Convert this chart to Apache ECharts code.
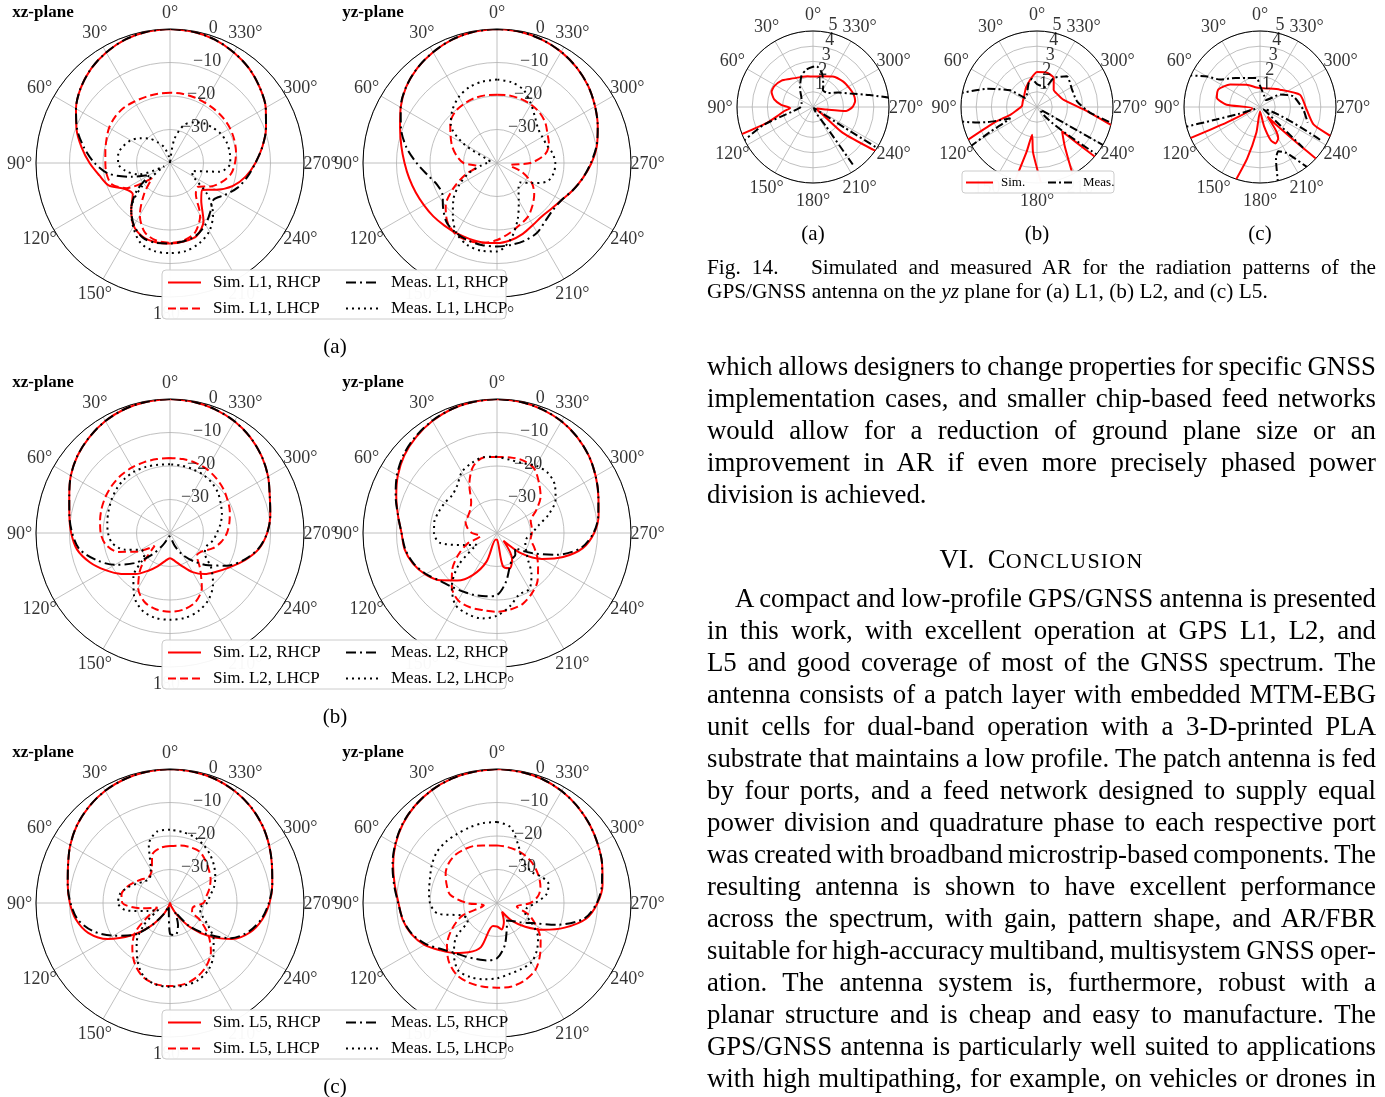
<!DOCTYPE html>
<html>
<head>
<meta charset="utf-8">
<script src="https://cdn.jsdelivr.net/npm/echarts@6/dist/echarts.min.js"></script>
<style>
  html, body { margin: 0; padding: 0; background: #fff; }
  #chart { position: absolute; left: 0; top: 0; width: 1385px; height: 1097px; }
  .col { position: absolute; left: 707px; width: 669px; font-family: 'Liberation Serif', 'Times New Roman', serif; color: #000; }
  .j { text-align: justify; text-align-last: justify; word-spacing: -3px; }
  .body { font-size: 26.8px; line-height: 32px; }
  .cap { font-size: 21.3px; line-height: 24px; }
  .sc { font-size: 0.82em; letter-spacing: 1.2px; }
</style>
</head>
<body>
<div id="chart"></div>

<div class="col cap" style="top:255px;">
  <div class="j">Fig. 14.&emsp;&nbsp;Simulated and measured AR for the radiation patterns of the</div>
  <div>GPS/GNSS antenna on the <i>yz</i> plane for (a) L1, (b) L2, and (c) L5.</div>
</div>

<div class="col body" style="top:350px;">
  <div class="j">which allows designers to change properties for specific GNSS</div>
  <div class="j">implementation cases, and smaller chip-based feed networks</div>
  <div class="j">would allow for a reduction of ground plane size or an</div>
  <div class="j">improvement in AR if even more precisely phased power</div>
  <div>division is achieved.</div>
</div>

<div class="col body" style="top:543px; text-align:center;">VI.&nbsp;&nbsp;C<span class="sc">ONCLUSION</span></div>

<div class="col body" style="top:582px;">
  <div class="j" style="text-indent:28px;">A compact and low-profile GPS/GNSS antenna is presented</div>
  <div class="j">in this work, with excellent operation at GPS L1, L2, and</div>
  <div class="j">L5 and good coverage of most of the GNSS spectrum. The</div>
  <div class="j">antenna consists of a patch layer with embedded MTM-EBG</div>
  <div class="j">unit cells for dual-band operation with a 3-D-printed PLA</div>
  <div class="j">substrate that maintains a low profile. The patch antenna is fed</div>
  <div class="j">by four ports, and a feed network designed to supply equal</div>
  <div class="j">power division and quadrature phase to each respective port</div>
  <div class="j">was created with broadband microstrip-based components. The</div>
  <div class="j">resulting antenna is shown to have excellent performance</div>
  <div class="j">across the spectrum, with gain, pattern shape, and AR/FBR</div>
  <div class="j">suitable for high-accuracy multiband, multisystem GNSS oper-</div>
  <div class="j">ation. The antenna system is, furthermore, robust with a</div>
  <div class="j">planar structure and is cheap and easy to manufacture. The</div>
  <div class="j">GPS/GNSS antenna is particularly well suited to applications</div>
  <div class="j">with high multipathing, for example, on vehicles or drones in</div>
</div>

<script>
// ---------- radiation pattern data (dB, sampled every 10 degrees) ----------
const angleDeg = [0,10,20,30,40,50,60,70,80,90,100,110,120,130,140,150,160,170,
                  180,190,200,210,220,230,240,250,260,270,280,290,300,310,320,330,340,350];

// L1
const l1xzSimR  = [0,-0.2,-0.8,-1.9,-3.3,-5.2,-7.6,-10.3,-13.2,-16,-18.6,-20.5,-24.5,-25.5,-22,-18.3,-16.5,-16,-16,-16.2,-16.8,-20,-25.5,-27.5,-24,-20,-17,-14.5,-12,-9.5,-7,-5,-3.2,-1.9,-0.8,-0.2];
const l1xzSimL  = [-19,-19,-19,-18.8,-18.5,-18.6,-19,-19.8,-20.4,-20.7,-20.8,-21.5,-25,-33,-28,-22,-18,-16.5,-16.2,-16.5,-18,-22,-28,-29,-26,-23.5,-21.5,-20.6,-20,-19.6,-19.3,-19.2,-19.2,-19.2,-19.1,-19];
const l1xzMeasR = [0,-0.2,-0.8,-1.9,-3.3,-5.2,-7.6,-10.5,-14,-17.5,-21.5,-28,-33,-27,-22,-18.5,-16.3,-15.8,-16,-16.3,-17,-18.8,-21.2,-23,-21,-18.5,-16.5,-14.5,-12,-9.5,-7,-5,-3.2,-1.9,-0.8,-0.2];
const l1xzMeasL = [-40,-38,-35,-33,-30.5,-28.5,-26.5,-25.2,-24.3,-24.5,-26.5,-30,-38,-29,-22,-18,-14.5,-13.3,-13.1,-13.3,-14.5,-16.5,-20,-25.5,-32,-33,-25,-22,-21.9,-22,-22.5,-23.5,-24.5,-26,-28,-33];
const l1yzSimR  = [0,-0.2,-0.8,-1.8,-3,-4.6,-6.8,-9.2,-11,-12.4,-13.4,-14.2,-14.8,-15.2,-15.6,-15.8,-15.9,-15.9,-16.1,-16.6,-17.5,-18.6,-19.2,-18.8,-17.8,-16,-14,-11.8,-9.7,-8,-6.2,-4.4,-2.9,-1.7,-0.8,-0.2];
const l1yzSimL  = [-19.6,-19.5,-19.5,-19.8,-20.3,-21.8,-24,-25.8,-27.8,-30,-34,-30,-25,-20,-17,-15.4,-15.3,-15.8,-17,-18.7,-20.3,-21.5,-23.5,-25.5,-28,-32,-36,-30,-25.5,-23.5,-22.6,-21.2,-20.3,-19.8,-19.6,-19.5];
const l1yzMeasR = [0,-0.2,-0.8,-1.8,-3,-4.6,-6.8,-9.5,-12.5,-16,-19,-21,-21.2,-19,-16.7,-15.8,-15.3,-15.1,-15.1,-15.2,-15.4,-16,-17.5,-18.2,-17.8,-16,-14,-12,-9.8,-8,-6.2,-4.4,-2.9,-1.7,-0.8,-0.2];
const l1yzMeasL = [-15.1,-15.3,-15.9,-17.2,-19.3,-22,-28.5,-37,-38,-37,-35,-31,-27,-23,-19.5,-15.8,-14,-13.4,-13.6,-16.8,-22,-27,-30,-31,-28,-24,-22.8,-22.6,-23.2,-24.2,-24.4,-24,-22.3,-19.7,-16.8,-15.5];

// L2
const l2xzSimR  = [0,-0.2,-0.6,-1.4,-2.6,-4,-5.8,-8,-9.5,-10.5,-11.8,-14.5,-17.8,-21,-24,-27,-29.5,-31.5,-32.5,-31.5,-29.5,-26.5,-24,-22,-19.5,-16.2,-13,-11,-9.6,-8.3,-6.2,-4.3,-2.7,-1.5,-0.7,-0.2];
const l2xzSimL  = [-17.6,-17.6,-17.5,-17.4,-17.4,-17.6,-17.9,-18.3,-18.8,-19.3,-20.5,-23.5,-29,-34,-26.5,-21,-18,-16.8,-16.5,-16.8,-18,-21,-26,-29.5,-29,-26.5,-24.5,-23,-22,-21,-20.2,-19.3,-18.6,-18,-17.7,-17.6];
const l2xzMeasR = [0,-0.2,-0.6,-1.4,-2.6,-4,-5.8,-8,-9.5,-10.8,-12.5,-16.5,-21,-26,-31.5,-36,-38.5,-39,-39,-38.5,-36,-32.5,-29,-25,-20.5,-16.5,-13.2,-11,-9.6,-8.3,-6.2,-4.3,-2.7,-1.5,-0.7,-0.2];
const l2xzMeasL = [-19.5,-19.3,-19,-18.8,-18.9,-19.3,-19.9,-20.5,-21,-21.5,-22.5,-25.5,-30,-30,-23,-18.5,-15.5,-14.3,-14.1,-14.3,-15.2,-17,-20,-24,-28,-28.4,-27,-26,-24.7,-23.5,-22.5,-21.3,-20.5,-20,-19.8,-19.6];
const l2yzSimR  = [0,-0.2,-0.6,-1.4,-2.5,-3.9,-5.8,-8,-10,-11.5,-12,-13.3,-15.3,-18,-21.5,-25.5,-31,-38,-38,-30,-28.8,-31,-37,-30.5,-24.5,-19,-14,-11,-9.2,-7.8,-6,-4.2,-2.7,-1.5,-0.7,-0.2];
const l2yzSimL  = [-17.3,-17.1,-19,-23.5,-28,-29.5,-30,-30,-31,-32.5,-35,-30.5,-26.5,-22.5,-19,-16.8,-16.4,-16.6,-16.5,-16.8,-17.5,-19.2,-21.2,-24,-26.2,-28.3,-29.8,-29.6,-29.5,-29.3,-26.5,-23,-20.5,-17.8,-17,-17.1];
const l2yzMeasR = [0,-0.2,-0.6,-1.3,-2.3,-3.6,-5.5,-7.8,-10,-11.5,-12.2,-13.5,-15.5,-17.8,-19,-19.8,-20.3,-20.8,-21.5,-25,-29,-31,-31.5,-33,-28,-21,-14.5,-11.2,-9.3,-7.8,-6,-4.2,-2.7,-1.5,-0.7,-0.2];
const l2yzMeasL = [-17.2,-17,-17.8,-19,-21.5,-22.5,-22,-21.5,-21,-21.2,-22.8,-29.5,-33,-25,-19,-15.2,-14.3,-14.1,-15.3,-17.8,-20.5,-20.7,-24,-28,-30,-31,-31,-29.5,-27.5,-23.5,-19.8,-17.5,-16.5,-16.8,-17.8,-17.8];

// L5
const l5xzSimR  = [0,-0.2,-0.6,-1.3,-2.4,-3.8,-5.6,-7.6,-9,-10.1,-11.5,-14,-18.5,-25,-31,-36,-39,-40,-40,-40,-39,-36,-30.5,-24.5,-18.5,-14.5,-12,-10.3,-9,-7.6,-5.8,-4,-2.5,-1.4,-0.6,-0.2];
const l5xzSimL  = [-23,-23.3,-24.6,-29,-30,-29,-27.7,-26.2,-25.3,-25.8,-31,-36,-33,-26.5,-22.5,-19,-16.5,-15.4,-15.2,-15.4,-16.5,-18.3,-21,-25,-29.5,-33,-33,-30,-29,-27.5,-26,-24.8,-23.5,-22.3,-22.3,-22.6];
const l5xzMeasR = [0,-0.2,-0.6,-1.3,-2.4,-3.8,-5.6,-7.6,-9,-10.3,-12,-15.5,-20.5,-25,-31,-36,-39,-38,-30.8,-30.3,-33,-37,-31,-25.5,-19,-15,-12.3,-10.5,-9,-7.6,-5.8,-4,-2.5,-1.4,-0.6,-0.2];
const l5xzMeasL = [-18.1,-18.3,-21.5,-28.5,-30.5,-30,-28.5,-26.5,-24.8,-24.5,-27,-33,-36,-30,-24.5,-20.5,-16.8,-15.3,-15,-15,-15.5,-17,-19.8,-23,-27,-30,-31,-29,-27.9,-26,-24.4,-22.8,-21.3,-20,-19,-18.5];
const l5yzSimR  = [0,-0.2,-0.5,-1.1,-2,-3.3,-5,-7,-9,-10.6,-11.4,-12.8,-15,-18,-20.5,-23,-26,-33,-33,-32,-34,-37,-33,-29,-24,-18.5,-13,-10,-8,-6.6,-5.2,-3.8,-2.5,-1.4,-0.6,-0.2];
const l5yzSimL  = [-22.8,-22.6,-21.8,-21.3,-21,-21.3,-22.3,-24,-25.8,-31,-36,-29,-24.5,-20.5,-17.5,-15.5,-14.8,-14.7,-14.7,-14.7,-15.5,-17,-20,-23,-26.5,-30,-34,-30,-27.5,-26.2,-25.4,-24.7,-24,-23.5,-23.2,-23];
const l5yzMeasR = [0,-0.2,-0.5,-1.1,-2,-3.2,-4.9,-6.8,-8.8,-10.5,-11.5,-13,-15.5,-18.5,-20.5,-21.5,-22.2,-22.6,-23.5,-27,-31.5,-34,-33,-31,-28,-21,-13.5,-10.2,-8.2,-6.6,-5.2,-3.8,-2.5,-1.4,-0.6,-0.2];
const l5yzMeasL = [-15.8,-15.8,-16,-16.2,-16.2,-16.5,-17.5,-18.7,-19.4,-20,-22,-29,-30,-24,-20,-16.8,-16.5,-16.9,-17.5,-18.5,-19,-19.5,-21.5,-24,-28,-31,-31,-28.5,-25,-23.6,-24.5,-26,-26,-25,-21.5,-17];

// tick labels: dB rings, axial-ratio rings and angle marks
const dbTicks = [0, -10, -20, -30];
const arTicks = [1, 2, 3, 4, 5];
const angleTicks = [0, 30, 60, 90, 120, 150, 180, 210, 240, 270, 300, 330];

// ---------- axial ratio traces (dB) as angle / value paths, one sub-array per trace piece ----------
const arA_simTheta  = [[111,109,104,98,92.5,86,79,70,62,50,40,25,10,0,345,327,310,297,287,278,270,263,259,250,240,232,229,234.6,236]];
const arA_simR      = [[5.4,3.2,2.4,1.9,1.5,2.1,2.6,2.9,2.9,2.7,2.4,2.15,2.05,2.0,2.1,2.4,2.6,2.7,2.8,2.8,2.6,2.2,0.9,0.3,0.3,0.8,2.6,4.85,5.4]];
const arA_measTheta = [[117,110,102,90,70,50,35,20,10,0,355,345,335,330,313,300,290,282,276],[214.7,214,222,232,236.8,237.5]];
const arA_measR     = [[5.4,3.5,1.35,0.8,0.8,1.0,1.5,2.2,2.5,2.65,2.7,2.3,1.6,1.3,1.35,1.9,2.6,3.8,5.4],[4.6,1.5,0.1,0.1,2.5,5.4]];

const arB_simTheta  = [[116,110,106,100,87,70,51,30,14,0,345,330,316,300,285,267,256.5,255],[163,167,170,175,184],[207,215,225.8,228,229.5]];
const arB_simR      = [[5.4,3.0,1.8,1.4,1.0,1.0,1.1,1.45,1.85,2.3,2.35,2.2,1.58,1.6,1.82,3.07,4.96,5.4],[5.4,3.0,1.85,3.0,5.4],[5.4,3.2,2.3,3.5,5.4]];
const arB_measTheta = [[81,70,58,52,19,10,0,337,330,316,296,278,264,257],[100,104,107,110,113,116,118,121],[232,233.5,236,240]];
const arB_measR     = [[5.4,3.5,2.07,0.97,1.67,1.87,1.5,1.43,2.2,2.82,2.57,2.66,3.5,5.4],[5.4,4.2,3.4,2.5,1.9,2.5,3.5,5.4],[5.4,0.3,0.3,5.4]];

const arC_simTheta  = [[114,115,100,86,78,67,53,31,10,0,340,311,287,267,252,248,247],[161,166,172,180,192,198,203,210,214,218,222,226,227.5]];
const arC_simR      = [[5.4,2.4,0.5,2.2,2.9,2.97,2.46,1.71,1.3,1.25,1.3,1.74,2.75,3.07,3.7,4.85,5.4],[5.4,3.5,1.7,0.3,1.3,2.3,2.6,2.4,1.9,0.8,1.5,3.5,5.4]];
const arC_measTheta = [[67,60,55.6,40,24.7,6.6,0,340,320,301.7,287.7,266.5,252],[104.8,106,108,112],[241.4,238,232,226.6],[193,197,202.5,210,218]];
const arC_measR     = [[5.4,4,3.2,2.5,2.1,1.92,1.4,0.8,0.6,1.55,2.3,2.85,3.3],[5.4,3.0,1.5,0.3],[4.5,0.3,0.3,3.9],[5.4,3.6,3.15,3.5,5.0]];

// ---------- layout ----------
const FONT = "'Liberation Serif', 'Times New Roman', serif";
const MAIN_RADIUS = 134;
const AR_RADIUS = 76;
const ROW_STEP = 370;
const bands = ['L1', 'L2', 'L5'];
const patternSets = [
  { xz: [l1xzSimR, l1xzSimL, l1xzMeasR, l1xzMeasL], yz: [l1yzSimR, l1yzSimL, l1yzMeasR, l1yzMeasL] },
  { xz: [l2xzSimR, l2xzSimL, l2xzMeasR, l2xzMeasL], yz: [l2yzSimR, l2yzSimL, l2yzMeasR, l2yzMeasL] },
  { xz: [l5xzSimR, l5xzSimL, l5xzMeasR, l5xzMeasL], yz: [l5yzSimR, l5yzSimL, l5yzMeasR, l5yzMeasL] }
];
const arSets = [
  { simT: arA_simTheta, simR: arA_simR, measT: arA_measTheta, measR: arA_measR },
  { simT: arB_simTheta, simR: arB_simR, measT: arB_measTheta, measR: arB_measR },
  { simT: arC_simTheta, simR: arC_simR, measT: arC_measTheta, measR: arC_measR }
];

const styleSimR  = { color: '#ff0000', width: 2, type: 'solid' };
const styleSimL  = { color: '#ff0000', width: 2, type: [8, 4] };
const styleMeasR = { color: '#000000', width: 2, type: [10, 4, 2, 4] };
const styleMeasL = { color: '#000000', width: 2, type: [2, 4], cap: 'butt' };
const patternStyles = [styleSimR, styleSimL, styleMeasR, styleMeasL];

const minus = v => (v < 0 ? '\u2212' + Math.abs(v) : String(v));

function closedLoop(vals) {
  const d = angleDeg.map((a, i) => [vals[i], a]);
  d.push([vals[0], 360]);
  return d;
}

const polar = [], angleAxis = [], radiusAxis = [], series = [], legend = [], elements = [];

function addPolar(cx, cy, r, rMin, rMax, rStep) {
  const idx = polar.length;
  polar.push({ center: [cx, cy], radius: r });
  angleAxis.push({
    polarIndex: idx, type: 'value', min: 0, max: 360, interval: 30,
    startAngle: 90, clockwise: false,
    axisLine: { show: true, lineStyle: { color: '#000', width: 1 } },
    axisTick: { show: false }, axisLabel: { show: false },
    splitLine: { show: true, lineStyle: { color: '#b0b0b0', width: 0.8 } }
  });
  radiusAxis.push({
    polarIndex: idx, type: 'value', min: rMin, max: rMax, interval: rStep,
    axisLine: { show: false }, axisTick: { show: false }, axisLabel: { show: false },
    splitLine: { show: true, lineStyle: { color: '#b0b0b0', width: 0.8 } }
  });
  return idx;
}

// invisible anchor points carrying text, positioned through the polar scales
function labelSeries(idx, data, offset, formatter, z) {
  series.push({
    type: 'scatter', coordinateSystem: 'polar', polarIndex: idx, silent: true, clip: false,
    symbolSize: 1, itemStyle: { color: 'rgba(0,0,0,0)' }, z: z,
    data: data,
    label: { show: true, position: 'inside', offset: offset, color: '#000',
             fontFamily: FONT, fontSize: 18, formatter: formatter }
  });
}
// angle marks sit just outside the outer ring: radius value beyond the axis maximum
function addAngleLabels(idx, rOutside) {
  labelSeries(idx, angleTicks.map(a => [rOutside, a]), [0, 1], p => p.value[1] + '°', 1);
}
function addRingLabels(idx, ticks, angle, offset) {
  labelSeries(idx, ticks.map(v => [v, angle]), offset, p => minus(p.value[0]), 3);
}

// ---------- gain patterns ----------
bands.forEach((band, k) => {
  const names = [`Sim. ${band}, RHCP`, `Sim. ${band}, LHCP`, `Meas. ${band}, RHCP`, `Meas. ${band}, LHCP`];
  const cy = 163 + ROW_STEP * k;
  [['xz', 170], ['yz', 497]].forEach(([plane, cx]) => {
    const idx = addPolar(cx, cy, MAIN_RADIUS, -40, 0, 10);
    patternSets[k][plane].forEach((vals, s) => {
      series.push({
        name: names[s], type: 'line', coordinateSystem: 'polar', polarIndex: idx,
        data: closedLoop(vals), symbol: 'none', showSymbol: false, smooth: 0.3,
        clip: true, lineStyle: patternStyles[s], itemStyle: { color: patternStyles[s].color },
        z: 2 + (s >= 2 ? 1 : 0), silent: true
      });
    });
    addAngleLabels(idx, 4.93);
    addRingLabels(idx, dbTicks, 349.6, [19, -3]);
    elements.push({
      type: 'text', x: plane === 'xz' ? 43 : 373, y: 13 + ROW_STEP * k, z: 10,
      style: { text: plane + '-plane', fontFamily: FONT, fontWeight: 'bold', fontSize: 17,
               fill: '#000', align: 'center', verticalAlign: 'middle' }
    });
  });
  // shared legend frame for the row
  elements.push({
    type: 'rect', z: 5, shape: { x: 162, y: 270 + ROW_STEP * k, width: 344, height: 49, r: 4 },
    style: { fill: 'rgba(255,255,255,0.97)', stroke: '#cccccc', lineWidth: 1 }
  });
  [[167, [names[0], names[1]]], [345, [names[2], names[3]]]].forEach(([left, data]) => {
    legend.push({
      left: left, top: 274 + ROW_STEP * k, orient: 'vertical', padding: 0, z: 6,
      itemWidth: 33, itemHeight: 14, itemGap: 9, selectedMode: false, data: data,
      itemStyle: { opacity: 0 },
      textStyle: { fontFamily: FONT, fontSize: 17, color: '#000', padding: [0, 0, 0, 7] }
    });
  });
  elements.push({
    type: 'text', x: 335, y: 347 + ROW_STEP * k, z: 10,
    style: { text: '(' + 'abc'[k] + ')', fontFamily: FONT, fontSize: 21, fill: '#000',
             align: 'center', verticalAlign: 'middle' }
  });
});

// ---------- axial ratio plots ----------
const arCenters = [813, 1037, 1260];
arSets.forEach((set, k) => {
  const idx = addPolar(arCenters[k], 107, AR_RADIUS, 0, 5, 1);
  set.simT.forEach((th, j) => {
    series.push({
      name: 'Sim.', type: 'line', coordinateSystem: 'polar', polarIndex: idx,
      data: th.map((a, i) => [set.simR[j][i], a]), symbol: 'none', showSymbol: false,
      smooth: 0.2, clip: true, silent: true, z: 2,
      lineStyle: { color: '#ff0000', width: 2, type: 'solid' }, itemStyle: { color: '#ff0000' }
    });
  });
  set.measT.forEach((th, j) => {
    series.push({
      name: 'Meas.', type: 'line', coordinateSystem: 'polar', polarIndex: idx,
      data: th.map((a, i) => [set.measR[j][i], a]), symbol: 'none', showSymbol: false,
      smooth: 0.2, clip: true, silent: true, z: 3,
      lineStyle: { color: '#000000', width: 2, type: [8, 3, 2, 3] }, itemStyle: { color: '#000' }
    });
  });
  addAngleLabels(idx, 6.12);
  addRingLabels(idx, arTicks, 347, [3, -7.5]);
  elements.push({
    type: 'text', x: arCenters[k], y: 234, z: 10,
    style: { text: '(' + 'abc'[k] + ')', fontFamily: FONT, fontSize: 21, fill: '#000',
             align: 'center', verticalAlign: 'middle' }
  });
});
elements.push({
  type: 'rect', z: 5, shape: { x: 962, y: 171, width: 152, height: 22, r: 3 },
  style: { fill: 'rgba(255,255,255,0.97)', stroke: '#cccccc', lineWidth: 1 }
});
[[965, 'Sim.'], [1047, 'Meas.']].forEach(([left, name]) => {
  legend.push({
    left: left, top: 176, orient: 'horizontal', padding: 0, z: 6,
    itemWidth: 27, itemHeight: 10, selectedMode: false, data: [name],
    itemStyle: { opacity: 0 },
    textStyle: { fontFamily: FONT, fontSize: 13, color: '#000', padding: [0, 0, 0, 3] }
  });
});

const chart = echarts.init(document.getElementById('chart'), null, { renderer: 'canvas' });
chart.setOption({
  backgroundColor: '#ffffff',
  animation: false,
  polar, angleAxis, radiusAxis, series, legend,
  graphic: { elements }
});
</script>
</body>
</html>
